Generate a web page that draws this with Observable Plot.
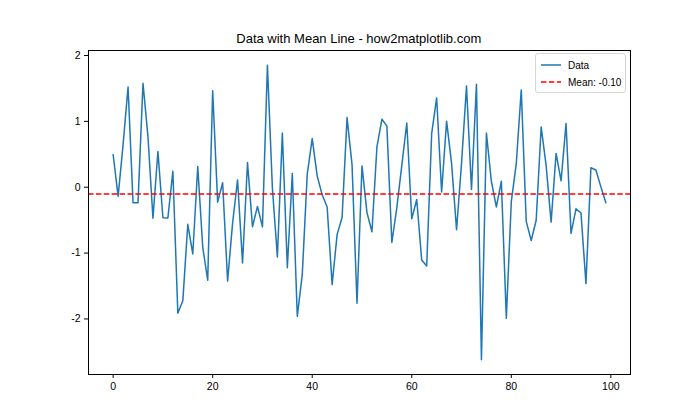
<!DOCTYPE html>
<html><head><meta charset="utf-8">
<script src="https://cdn.jsdelivr.net/npm/d3@7"></script>
<script src="https://cdn.jsdelivr.net/npm/@observablehq/plot@0.6"></script>
<style>
body{margin:0;background:#fff;}
#wrap{position:relative;width:700px;height:420px;font-family:"Liberation Sans","DejaVu Sans",sans-serif;}
#title{position:absolute;left:87.5px;width:542.5px;top:31px;text-align:center;font-size:13px;color:#000;}
#legend{position:absolute;left:535px;top:53px;width:89px;height:38px;border:1px solid #d6d6d6;border-radius:3px;background:rgba(255,255,255,0.8);font-size:10px;}
.row{position:absolute;left:5px;height:14px;display:flex;align-items:center;white-space:nowrap;}
.row svg{margin-right:7px;flex:none;}
</style>
</head><body>
<div id="wrap"><div id="chart"></div>
<div id="title">Data with Mean Line - how2matplotlib.com</div>
<div id="legend">
 <div class="row" style="top:4px"><svg width="20" height="4"><line x1="0" y1="2" x2="20" y2="2" stroke="#1f77b4" stroke-width="1.5"/></svg>Data</div>
 <div class="row" style="top:21px"><svg width="20" height="4"><line x1="0" y1="2" x2="20" y2="2" stroke="red" stroke-width="1.5" stroke-dasharray="5.5,2.4"/></svg><span id="meanlabel"></span></div>
</div>
</div>
<script>
const values = [0.4967,-0.1383,0.6477,1.5230,-0.2342,-0.2341,1.5792,0.7674,-0.4695,0.5426,
-0.4634,-0.4657,0.2420,-1.9133,-1.7249,-0.5623,-1.0128,0.3142,-0.9080,-1.4123,
1.4656,-0.2258,0.0675,-1.4247,-0.5444,0.1109,-1.1510,0.3757,-0.6006,-0.2917,
-0.6017,1.8523,-0.0135,-1.0577,0.8225,-1.2208,0.2089,-1.9597,-1.3282,0.1969,
0.7385,0.1714,-0.1156,-0.3011,-1.4785,-0.7198,-0.4606,1.0571,0.3436,-1.7630,
0.3241,-0.3851,-0.6769,0.6117,1.0310,0.9313,-0.8392,-0.3092,0.3313,0.9755,
-0.4792,-0.1857,-1.1063,-1.1962,0.8125,1.3562,-0.0720,1.0035,0.3616,-0.6451,
0.3614,1.5380,-0.0358,1.5646,-2.6197,0.8219,0.0870,-0.2990,0.0918,-1.9876,
-0.2197,0.3571,1.4779,-0.5182,-0.8085,-0.5018,0.9154,0.3287,-0.5298,0.5133,
0.0971,0.9686,-0.7021,-0.3277,-0.3921,-1.4635,0.2961,0.2611,0.0051,-0.2346];
const xTicks = [0,20,40,60,80,100];
const yTicks = [-2,-1,0,1,2];
const meanValue = d3.mean(values);
document.getElementById("meanlabel").textContent = "Mean: " + meanValue.toFixed(2);
const data = values.map((v,i)=>({i, v}));
const xmin = -4.95, xmax = 103.95;
const ymin = d3.min(values), ymax = d3.max(values), pad = (ymax-ymin)*0.05;
const chart = Plot.plot({
  width:700, height:420,
  marginLeft:88, marginRight:70, marginTop:50, marginBottom:46,
  style:{fontFamily:'"Liberation Sans","DejaVu Sans",sans-serif', fontSize:"10.5px", color:"#000", background:"#fff"},
  x:{domain:[xmin,xmax], ticks:xTicks, tickSize:4, tickPadding:4, label:null, tickFormat:d=>d},
  y:{domain:[ymin-pad,ymax+pad], ticks:yTicks, tickSize:4, tickPadding:4, label:null, tickFormat:d=>d},
  marks:[
    Plot.lineY(data,{x:"i", y:"v", stroke:"#1f77b4", strokeWidth:1.5}),
    Plot.ruleY([meanValue],{stroke:"red", strokeWidth:1.5, strokeDasharray:"5.5,2.4"}),
    Plot.frame({stroke:"#000", strokeWidth:1})
  ]
});
document.getElementById("chart").appendChild(chart);
</script>
</body></html>
